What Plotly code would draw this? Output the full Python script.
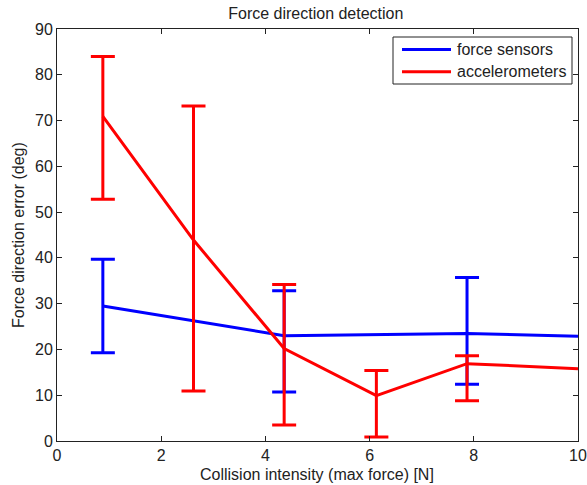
import plotly.graph_objects as go

# Data
fs_x = [0.88, 4.36, 7.87, 10.0]
fs_mean = [29.5, 23.0, 23.5, 22.9]
fs_ex = [0.88, 4.36, 7.87]
fs_emean = [29.5, 23.0, 23.5]
fs_hi = [39.7, 32.8, 35.7]
fs_lo = [19.3, 10.7, 12.4]

ac_x = [0.88, 2.62, 4.36, 6.13, 7.87, 10.0]
ac_mean = [70.9, 43.9, 20.2, 9.9, 16.9, 15.8]
ac_ex = [0.88, 2.62, 4.36, 6.13, 7.87]
ac_emean = [70.9, 43.9, 20.2, 9.9, 16.9]
ac_hi = [84.0, 73.2, 34.2, 15.4, 18.6]
ac_lo = [52.8, 10.9, 3.5, 0.9, 8.8]

series_names = ["force sensors", "accelerometers"]
series_colors = ["#0000ff", "#ff0000"]

FONT = "Liberation Sans, Arial, sans-serif"
FS = 16
TXT = "#222"

# plot area geometry (px)
L, R, T, B, W, H = 57, 9, 29, 44, 587, 485
PW, PH = W - L - R, H - T - B


def px(x):
    return (x - L) / PW


def py(y):
    return (H - B - y) / PH


fig = go.Figure()


def add_series(name, color, x, y, ex, ey, hi, lo):
    fig.add_trace(go.Scatter(
        x=x, y=y, mode="lines", name=name,
        line=dict(color=color, width=3), showlegend=False))
    fig.add_trace(go.Scatter(
        x=ex, y=ey, mode="markers", showlegend=False,
        marker=dict(size=1, color="rgba(0,0,0,0)"),
        error_y=dict(type="data", symmetric=False,
                     array=[h - m for h, m in zip(hi, ey)],
                     arrayminus=[m - l for m, l in zip(ey, lo)],
                     color=color, thickness=3, width=12)))


add_series(series_names[0], series_colors[0], fs_x, fs_mean, fs_ex, fs_emean, fs_hi, fs_lo)
add_series(series_names[1], series_colors[1], ac_x, ac_mean, ac_ex, ac_emean, ac_hi, ac_lo)

axis_common = dict(
    showline=True, linecolor=TXT, linewidth=1, mirror="ticks",
    ticks="inside", ticklen=5, tickcolor=TXT, tickwidth=1,
    showgrid=False, zeroline=False, automargin=False,
    tickfont=dict(family=FONT, size=FS, color=TXT),
)

# legend box drawn by hand (MATLAB style)
shapes = [dict(type="rect", xref="paper", yref="paper",
               x0=px(393), x1=px(572), y0=py(84), y1=py(37),
               line=dict(color=TXT, width=1), fillcolor="white", layer="above")]
annotations = []
for i, (name, col) in enumerate(zip(series_names, series_colors)):
    yc = 49.5 + 22.3 * i
    shapes.append(dict(type="line", xref="paper", yref="paper",
                       x0=px(402), x1=px(451), y0=py(yc), y1=py(yc),
                       line=dict(color=col, width=3), layer="above"))
    annotations.append(dict(text=name, xref="paper", yref="paper",
                            x=px(455), y=py(yc), xanchor="left", yanchor="middle",
                            showarrow=False,
                            font=dict(family=FONT, size=FS, color=TXT)))

annotations += [
    dict(text="Collision intensity (max force) [N]", xref="paper", yref="paper",
         x=px(317), y=py(474), xanchor="center", yanchor="middle",
         showarrow=False, font=dict(family=FONT, size=FS, color=TXT)),
    dict(text="Force direction error (deg)", xref="paper", yref="paper",
         x=px(18), y=0.5, xanchor="center", yanchor="middle",
         textangle=-90, showarrow=False,
         font=dict(family=FONT, size=FS, color=TXT)),
]

fig.update_layout(
    width=W, height=H,
    margin=dict(l=L, r=R, t=T, b=B, autoexpand=False),
    paper_bgcolor="white", plot_bgcolor="white",
    font=dict(family=FONT, size=FS, color=TXT),
    title=dict(text="Force direction detection", x=0.538, xanchor="center",
               y=1 - 13 / H, yanchor="middle",
               font=dict(family=FONT, size=FS, color=TXT)),
    xaxis=dict(range=[0, 10], tickvals=[0, 2, 4, 6, 8, 10], **axis_common),
    yaxis=dict(range=[0, 90], tickvals=list(range(0, 91, 10)), **axis_common),
    showlegend=False,
    shapes=shapes,
    annotations=annotations,
)

fig.write_html("out.html")
